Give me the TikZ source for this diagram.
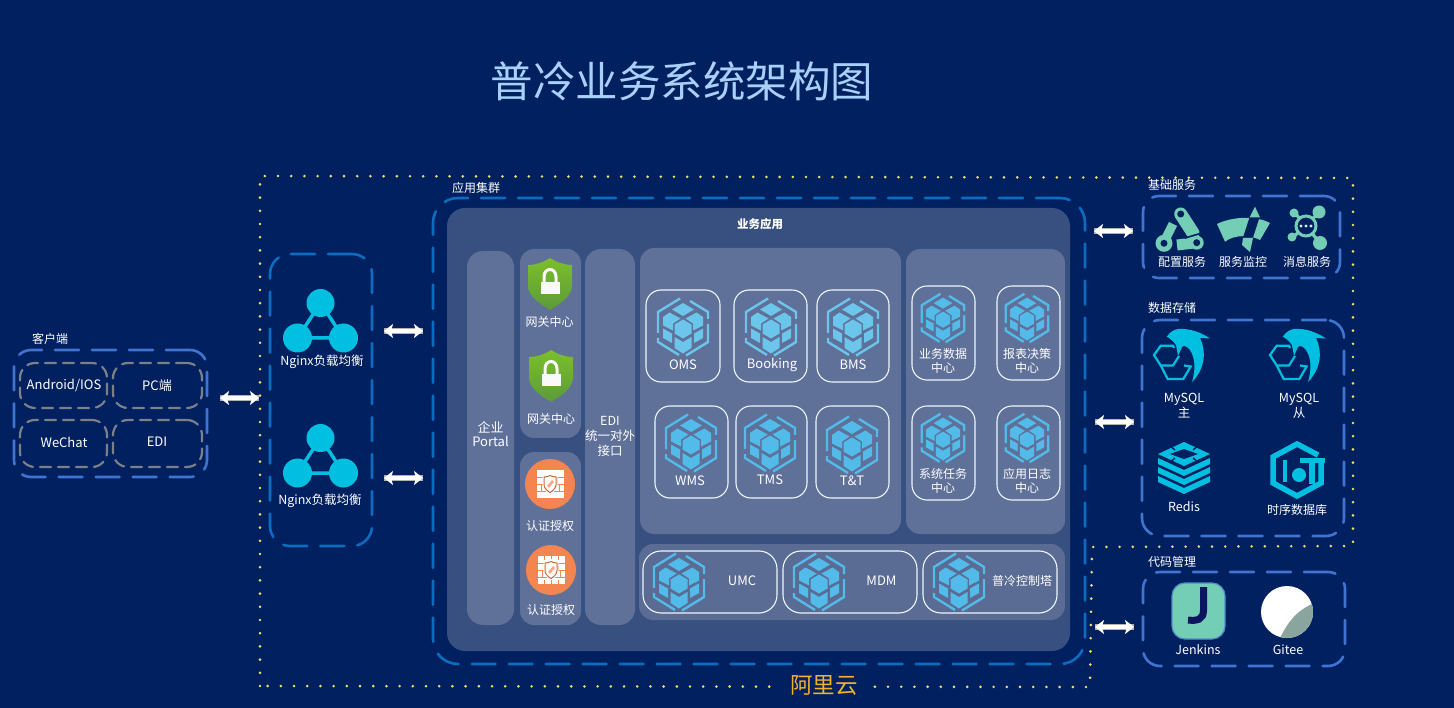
\documentclass[tikz,border=0pt]{standalone}
\usepackage{fontspec}
\setmainfont{Noto Sans CJK SC}
\usetikzlibrary{arrows.meta,shapes.geometric}
\definecolor{bgc}{HTML}{01205F}
\definecolor{panelA}{HTML}{38507F}
\definecolor{panelB}{HTML}{5F7099}
\definecolor{panelC}{HTML}{5A6B94}
\definecolor{dashA}{HTML}{0B6CC0}
\definecolor{dashB}{HTML}{3F74D0}
\definecolor{dashG}{HTML}{7C8088}
\definecolor{tealc}{HTML}{00BFE0}
\definecolor{mint}{HTML}{74CDB5}
\definecolor{cubeA}{HTML}{6CC6EC}
\definecolor{cubeB}{HTML}{52BBEA}
\definecolor{orng}{HTML}{F58550}
\definecolor{dotc}{HTML}{E8E070}
\definecolor{shieldT}{HTML}{7CBF2A}
\definecolor{shieldB}{HTML}{5C9A3C}
\definecolor{titlec}{HTML}{A8D0F8}
\definecolor{ylw}{HTML}{F0B428}
\definecolor{jdark}{HTML}{0E1560}
\definecolor{giteeg}{HTML}{8AA59E}
\tikzset{
  x=1pt,y=-1pt,
  panelbox/.style={fill=#1,draw=none},
  bluedash/.style={draw=dashB,line width=2.6pt,dash pattern=on 24pt off 13pt,line cap=round},
  appdash/.style={draw=dashA,line width=2.6pt,dash pattern=on 24pt off 13pt,line cap=round},
  graydash/.style={draw=dashG,line width=2.2pt,dash pattern=on 11pt off 7pt,line cap=round},
  card/.style={draw=white!88!cubeA,line width=1.1pt},
  lbl/.style={text=white,font=\fontsize{12}{14}\selectfont,align=center,inner sep=0pt},
  biglbl/.style={text=white,font=\fontsize{13}{15}\selectfont,align=center,inner sep=0pt},
  dblarrow/.style={draw=white,line width=4pt,{Stealth[length=9pt,width=14pt,inset=2pt]}-{Stealth[length=9pt,width=14pt,inset=2pt]},preaction={draw=gray!60,line width=5.6pt,-}},
  pics/cubeicon/.style={code={
    \draw[#1,line width=2.4pt]
      (-3,-28.5)--(-25,-15)--(-25,6)
      (-25,11)--(-25,15)--(-4,28)
      (3,28.5)--(25,15)--(25,-3)
      (25,-8)--(25,-15)--(7,-26);
    \fill[#1] (0,-24)--(11,-17.5)--(0,-11)--(-11,-17.5)--cycle;
    \fill[#1] (-20,-10)--(-13.5,-14.5)--(-2.5,-8.5)--(-10,-3.5)--(-10,3.5)--(-20,-1.5)--cycle;
    \fill[#1] (20,-10)--(13.5,-14.5)--(2.5,-8.5)--(10,-3.5)--(10,3.5)--(20,-1.5)--cycle;
    \fill[#1] (-20,1.5)--(-11,6.5)--(-11,16)--(-20,11)--cycle;
    \fill[#1] (20,1.5)--(11,6.5)--(11,16)--(20,11)--cycle;
    \fill[#1] (0,-7.5)--(8.5,-2.5)--(8.5,6.5)--(0,11.5)--(-8.5,6.5)--(-8.5,-2.5)--cycle;
    \fill[#1] (0,15)--(8.5,10)--(8.5,21)--(0,26.5)--(-8.5,21)--(-8.5,10)--cycle;
  }},
  pics/triadicon/.style={code={
    \draw[tealc,line width=3.5pt] (0,0)--(-23,35)--(23,35)--cycle;
    \fill[tealc] (0,0) circle (14pt) (-23,35) circle (14.5pt) (23,35) circle (14.5pt);
  }},
  pics/shieldicon/.style={code={
    \shade[top color=shieldT,bottom color=shieldB]
      (0,-26) .. controls (8,-21) and (15,-19) .. (22,-19) -- (22,2)
      .. controls (22,12) and (10,20) .. (0,26) .. controls (-10,20) and (-22,12) .. (-22,2) -- (-22,-19)
      .. controls (-15,-19) and (-8,-21) .. (0,-26) -- cycle;
    \draw[white!95!gray,line width=3pt] (-6,0)--(-6,-7) .. controls (-6,-17) and (6,-17) .. (6,-7)--(6,0);
    \fill[white!95!gray] (-9.5,-2) rectangle (9.5,10);
  }},
  pics/wallicon/.style={code={
    \fill[orng] (0,0) circle (25pt);
    \fill[white] (-13.5,-14) rectangle (13.5,14);
    \draw[orng,line width=.8pt] (-13.5,-7)--(13.5,-7) (-13.5,0)--(13.5,0) (-13.5,7)--(13.5,7)
      (-7,-7)--(-7,0) (7,-7)--(7,0) (-9,0)--(-9,7) (9,0)--(9,7);
    \fill[white] (0,-10.5) .. controls (3,-9) and (5,-8.5) .. (7.5,-8.5) -- (7.5,1) .. controls (7.5,5) and (3,9) .. (0,10.5)
      .. controls (-3,9) and (-7.5,5) .. (-7.5,1) -- (-7.5,-8.5) .. controls (-5,-8.5) and (-3,-9) .. (0,-10.5) -- cycle;
    \draw[orng!80!black,line width=1pt] (0,-8.5) .. controls (2,-7.5) and (4,-7) .. (6,-7) -- (6,1) .. controls (6,4) and (2,7.5) .. (0,8.5)
      .. controls (-2,7.5) and (-6,4) .. (-6,1) -- (-6,-7) .. controls (-4,-7) and (-2,-7.5) .. (0,-8.5) -- cycle;
    \fill[orng!70!white] (-3,2)--(2,-4)--(4,-2)--(-1,4)--cycle;
  }},
  pics/wallticks/.style={code={
    \draw[orng,line width=.9pt] (-7,-14)--(-7,-10) (0,-14)--(0,-11) (7,-14)--(7,-10) (-7,10)--(-7,14) (0,10)--(0,14) (7,10)--(7,14);
  }},
  pics/mysqlicon/.style={code={
    \draw[tealc,line width=2.2pt,line join=miter]
      (44,48)--(43,45.7)--(30.7,45.7)--(24,55)--(30.7,65.5)--(43,65.5)--(49,56)
      (30.7,65.5)--(37.7,79)--(53.3,79)--(60.7,66.5)--(54,65.5);
    \fill[tealc] (36.7,36.7) .. controls (40,32) and (44,29.5) .. (48,29)
      .. controls (60,28) and (72,33) .. (80,38.5) -- (70,38)
      .. controls (76,50) and (76,68) .. (62,82)
      .. controls (66,68) and (65,58) .. (60,50)
      .. controls (57,46) and (53,45) .. (52,47) -- (48,56) -- (46,45)
      .. controls (43,41) and (40,38) .. (36.7,36.7) -- cycle;
  }},
  pics/redisicon/.style={code={
    \fill[tealc] (0,-26)--(26,-14)--(0,-2)--(-26,-14)--cycle;
    \fill[bgc] (0,-19)--(14,-14)--(0,-9)--(-14,-14)--cycle;
    \draw[bgc,line width=1.4pt] (-16,-24)--(-9,-18) (16,-24)--(9,-18) (-16,-4)--(-9,-10) (16,-4)--(9,-10);
    \foreach \yy in {-10,-1,8}{
      \fill[tealc] (-26,\yy)--(0,\yy+12)--(26,\yy)--(26,\yy+6)--(0,\yy+18)--(-26,\yy+6)--cycle;
    }
  }},
  pics/tsdbicon/.style={code={
    \draw[tealc,line width=5.5pt,line join=miter] (21,-15)--(0,-26)--(-24,-13)--(-24,13)--(0,26)--(24,13)--(24,-9);
    \fill[tealc] (3,-12) rectangle (28,-7);
    \fill[tealc] (12,-12) rectangle (18,14);
    \fill[tealc] (-14,-10) rectangle (-10,12);
    \fill[tealc] (2,5) circle (7pt);
  }},
  pics/cfgicon/.style={code={
    \draw[mint,line width=13pt,line cap=round] (0.7,-16)--(13,3);
    \draw[mint,line width=9pt] (-7,-6)--(-14,8);
    \fill[mint] (-16,13.3) circle (8.5pt);
    \draw[mint,line width=11pt] (-3,15)--(16.7,12.7);
    \fill[mint] (16.7,12.7) circle (7pt);
    \fill[bgc] (0,-1)--(5,8)--(-6,8)--cycle;
    \draw[bgc,line width=1.6pt] (5,8)--(22,3);
    \fill[bgc] (0.7,-16) circle (3.5pt) (-16,13.3) circle (3.5pt) (16.7,12.7) circle (3.5pt);
  }},
  pics/monicon/.style={code={
    \fill[mint] (-26,-6) .. controls (-12,-13) and (12,-15) .. (27,-7)
      -- (17,10) .. controls (8,5) and (-8,4) .. (-18,11.7) -- cycle;
    \fill[bgc] (7,-14)--(17,-14)--(10,7.5)--(0,7.5)--cycle;
    \fill[mint] (12,-23.3)--(17,-12.5)--(6.5,-12.5)--cycle;
    \fill[mint] (0,8)--(10,8)--(7,22)--(-1,15)--cycle;
  }},
  pics/msgicon/.style={code={
    \draw[mint,line width=3.2pt] (0,0)--(13,-14) (0,0)--(-11,-13) (0,0)--(-13,11) (0,0)--(14,17);
    \fill[mint] (13,-14) circle (6.5pt) (-12,-13) circle (4.5pt) (-14,11) circle (4.5pt) (14,17) circle (7pt);
    \filldraw[fill=bgc,draw=mint,line width=3pt] (0,0) circle (10pt);
    \fill[white!70!mint] (-5,0) circle (1.6pt) (0,0) circle (1.6pt) (5,0) circle (1.6pt);
  }},
}
\newcommand{\bx}[6]{%
  \pgfmathsetmacro\bxw{#4-#2}\pgfmathsetmacro\bxh{#5-#3}%
  \node[#6,rectangle,minimum width=\bxw pt,minimum height=\bxh pt,inner sep=0pt,outer sep=0pt,anchor=north west] (#1) at (#2,#3) {};}
\begin{document}
\begin{tikzpicture}
\useasboundingbox (0,0) rectangle (1454,708);
\fill[bgc] (0,0) rectangle (1454,708);

% title
\node[text=titlec,font=\fontsize{42.5}{46}\selectfont,inner sep=0pt] (title) at (682,81) {普冷业务系统架构图};

% Alibaba cloud dotted outline
\draw[dotc,line width=2.9pt,line cap=round,dash pattern=on 0pt off 13.2pt]
  (260,686)--(260,176)--(1353,178)--(1353,546)--(1092,547)--(1090,687)--cycle;
\node[fill=bgc,text=ylw,font=\fontsize{22.5}{24}\selectfont,inner xsep=10pt,inner ysep=1pt] (aliyun) at (824,685) {阿里云};

% client
\bx{client}{14}{350}{207}{477}{bluedash,rounded corners=17pt}
\node[lbl] (clientT) at (50,339) {客户端};
\bx{cA}{20}{363}{107}{408}{graydash,rounded corners=15pt}
\bx{cB}{113}{363}{202}{408}{graydash,rounded corners=15pt}
\bx{cC}{20}{420}{107}{467}{graydash,rounded corners=15pt}
\bx{cD}{113}{420}{202}{467}{graydash,rounded corners=15pt}
\node[biglbl] (cAt) at (64,385.5) {Android/IOS};
\node[biglbl] (cBt) at (157,385.5) {PC端};
\node[biglbl] (cCt) at (64,442) {WeChat};
\node[biglbl] (cDt) at (157,442) {EDI};

% nginx
\bx{nginx}{270}{254}{372}{546}{appdash,rounded corners=20pt}
\pic at (320.5,303) {triadicon};
\pic at (320.5,438) {triadicon};
\node[lbl,font=\fontsize{12.5}{14}\selectfont] (ngA) at (322,362) {Nginx负载均衡};
\node[lbl,font=\fontsize{12.5}{14}\selectfont] (ngB) at (320,501) {Nginx负载均衡};

% app cluster
\bx{app}{433}{198}{1085}{664}{appdash,rounded corners=25pt}
\node[lbl] (appT) at (476,188) {应用集群};
\bx{outer}{447}{208}{1070}{651}{panelbox=panelA,rounded corners=18pt}
\node[lbl,font=\fontsize{11.5}{14}\bfseries\selectfont] (bizT) at (760,224) {业务应用};

\bx{portal}{467}{251}{514}{625}{panelbox=panelB,rounded corners=16pt}
\node[biglbl] (portalT) at (490.5,434) {企业\\[-1.5pt]Portal};
\bx{gate}{520}{249}{581}{438}{panelbox=panelB,rounded corners=14pt}
\bx{auth}{520}{452}{581}{625}{panelbox=panelB,rounded corners=14pt}
\bx{edi}{585}{249}{635}{625}{panelbox=panelB,rounded corners=16pt}
\node[lbl,font=\fontsize{12.5}{15}\selectfont] (ediT) at (610,436) {EDI\\统一对外\\接口};

\pic at (550,284) {shieldicon};
\pic at (551,376) {shieldicon};
\node[lbl] (gateA) at (549.5,322) {网关中心};
\node[lbl] (gateB) at (551,419) {网关中心};
\pic at (550,484) {wallicon};
\pic at (551,570) {wallicon};
\pic at (551,570) {wallticks};
\node[lbl] (authA) at (550,526) {认证授权};
\node[lbl] (authB) at (551,610) {认证授权};

\bx{panA}{640}{248}{901}{534}{panelbox=panelB,rounded corners=14pt}
\bx{panB}{906}{249}{1065}{534}{panelbox=panelB,rounded corners=14pt}
\bx{panC}{639}{544}{1065}{620}{panelbox=panelC,rounded corners=14pt}

% business cards
\bx{oms}{646}{290}{720}{382}{card,rounded corners=15pt}
\bx{book}{734}{290}{807}{382}{card,rounded corners=15pt}
\bx{bms}{817}{290}{889}{382}{card,rounded corners=15pt}
\pic at (683,327) {cubeicon=cubeA};
\pic at (771,327) {cubeicon=cubeA};
\pic at (853,327) {cubeicon=cubeA};
\node[biglbl] (omsT) at (683,365) {OMS};
\node[biglbl] (bookT) at (772,365) {Booking};
\node[biglbl] (bmsT) at (853,365) {BMS};

\bx{wms}{655}{406}{728}{498}{card,rounded corners=15pt}
\bx{tms}{736}{406}{807}{498}{card,rounded corners=15pt}
\bx{tt}{816}{406}{889}{498}{card,rounded corners=15pt}
\pic at (691,443) {cubeicon=cubeB};
\pic at (770,443) {cubeicon=cubeB};
\pic at (852,445) {cubeicon=cubeB};
\node[biglbl] (wmsT) at (690,481) {WMS};
\node[biglbl] (tmsT) at (770,480) {TMS};
\node[biglbl] (ttT) at (852,481) {T\&T};

\bx{r1}{912}{286}{975}{380}{card,rounded corners=15pt}
\bx{r2}{997}{286}{1060}{380}{card,rounded corners=15pt}
\bx{r3}{912}{406}{975}{500}{card,rounded corners=15pt}
\bx{r4}{997}{406}{1060}{500}{card,rounded corners=15pt}
\pic[scale=.85] at (943,318) {cubeicon=cubeB};
\pic[scale=.85] at (1027,318) {cubeicon=cubeB};
\pic[scale=.85] at (943,438) {cubeicon=cubeB};
\pic[scale=.85] at (1027,438) {cubeicon=cubeB};
\node[lbl,font=\fontsize{12}{14}\selectfont] (r1T) at (943,361) {业务数据\\中心};
\node[lbl,font=\fontsize{12}{14}\selectfont] (r2T) at (1027,361) {报表决策\\中心};
\node[lbl,font=\fontsize{12}{14}\selectfont] (r3T) at (943,481) {系统任务\\中心};
\node[lbl,font=\fontsize{12}{14}\selectfont] (r4T) at (1027,481) {应用日志\\中心};

\bx{umc}{643}{551}{777}{613}{card,rounded corners=18pt}
\bx{mdm}{783}{551}{917}{613}{card,rounded corners=18pt}
\bx{tower}{923}{551}{1057}{613}{card,rounded corners=18pt}
\pic at (679,582) {cubeicon=cubeB};
\pic at (819,582) {cubeicon=cubeB};
\pic at (959,582) {cubeicon=cubeB};
\node[biglbl] (umcT) at (742,581) {UMC};
\node[biglbl] (mdmT) at (881.5,581) {MDM};
\node[lbl] (towerT) at (1022,581) {普冷控制塔};

% base services
\bx{base}{1143}{196}{1340}{278}{bluedash,rounded corners=16pt}
\node[lbl] (baseT) at (1172,185) {基础服务};
\pic at (1180,230) {cfgicon};
\pic at (1243,230) {monicon};
\pic at (1306,226) {msgicon};
\node[lbl] (baseA) at (1182,262) {配置服务};
\node[lbl] (baseB) at (1243,262) {服务监控};
\node[lbl] (baseC) at (1307,262) {消息服务};

% storage
\bx{store}{1142}{320}{1344}{536}{bluedash,rounded corners=18pt}
\node[lbl] (storeT) at (1172,308) {数据存储};
\pic at (1130,300) {mysqlicon};
\pic at (1246,300) {mysqlicon};
\pic at (1184,468) {redisicon};
\pic at (1297,470) {tsdbicon};
\node[biglbl,font=\fontsize{12.5}{15}\selectfont] (dbA) at (1184,406) {MySQL\\主};
\node[biglbl,font=\fontsize{12.5}{15}\selectfont] (dbB) at (1299,406) {MySQL\\从};
\node[biglbl,font=\fontsize{12.5}{15}\selectfont] (redisT) at (1184,507) {Redis};
\node[lbl] (tsT) at (1297,510) {时序数据库};

% code
\bx{code}{1143}{572}{1345}{666}{bluedash,rounded corners=17pt}
\node[lbl] (codeT) at (1172,562) {代码管理};
\bx{jenk}{1172}{583}{1225}{639}{fill=mint,draw=dashB!70!mint,line width=1.2pt,rounded corners=13pt}
\draw[jdark,line width=7pt] (1203.5,587)--(1203.5,610) .. controls (1203.5,620) and (1197,621) .. (1188,620);
\node[biglbl,font=\fontsize{12.5}{15}\selectfont] (jenkT) at (1198,650) {Jenkins};
\node[circle,fill=white,minimum size=52pt,inner sep=0pt] (gitee) at (1287,612) {};
\begin{scope}
  \clip (1287,612) circle (26pt);
  \fill[giteeg] (1314,603) .. controls (1296,611) and (1288,622) .. (1280,638) -- (1320,645) -- cycle;
\end{scope}
\node[biglbl,font=\fontsize{12.5}{15}\selectfont] (giteeT) at (1288,650) {Gitee};

% connectors
\coordinate (a1) at (220,398); \coordinate (a2) at (259,398);
\coordinate (b1) at (384,331); \coordinate (b2) at (423,331);
\coordinate (c1) at (384,478); \coordinate (c2) at (423,478);
\coordinate (d1) at (1094,231); \coordinate (d2) at (1133,231);
\coordinate (e1) at (1095,422); \coordinate (e2) at (1134,422);
\coordinate (f1) at (1095,627); \coordinate (f2) at (1134,627);
\draw[dblarrow] (a1)--(a2);
\draw[dblarrow] (b1)--(b2);
\draw[dblarrow] (c1)--(c2);
\draw[dblarrow] (d1)--(d2);
\draw[dblarrow] (e1)--(e2);
\draw[dblarrow] (f1)--(f2);
\end{tikzpicture}
\end{document}
